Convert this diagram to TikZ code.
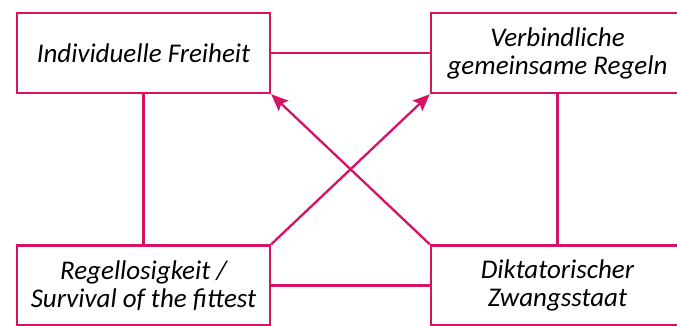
\documentclass[tikz,border=0pt]{standalone}
\usepackage{fontspec}
\setmainfont{Carlito}
\usetikzlibrary{arrows.meta}
\definecolor{linecol}{RGB}{214,18,100}
\tikzset{
  box/.style={draw=linecol, line width=2.3pt, fill=white, minimum width=253pt, minimum height=80pt,
    inner sep=0pt, align=center, font=\fontsize{27}{28}\selectfont\itshape},
  link/.style={draw=linecol, line width=2.3pt},
  arrowlink/.style={link, -{Stealth[length=17pt, width=14pt, inset=3pt]}}
}
\begin{document}
\begin{tikzpicture}[x=1pt, y=-1pt]
  \useasboundingbox (0,0) rectangle (677,325);
  \node[box] (freiheit) at (143.5,53) {Individuelle Freiheit};
  \node[box] (regeln) at (557.5,53) {Verbindliche\\gemeinsame Regeln};
  \node[box] (chaos) at (143.5,285.5) {Regellosigkeit /\\Survival of the fittest};
  \node[box] (diktatur) at (557.5,285.5) {Diktatorischer\\Zwangsstaat};
  \draw[link] (freiheit) -- (regeln);
  \draw[link] (chaos) -- (diktatur);
  \draw[link] (freiheit) -- (chaos);
  \draw[link] (regeln) -- (diktatur);
  \draw[arrowlink] (chaos.north east) -- (regeln.south west);
  \draw[arrowlink] (diktatur.north west) -- (freiheit.south east);
\end{tikzpicture}
\end{document}
